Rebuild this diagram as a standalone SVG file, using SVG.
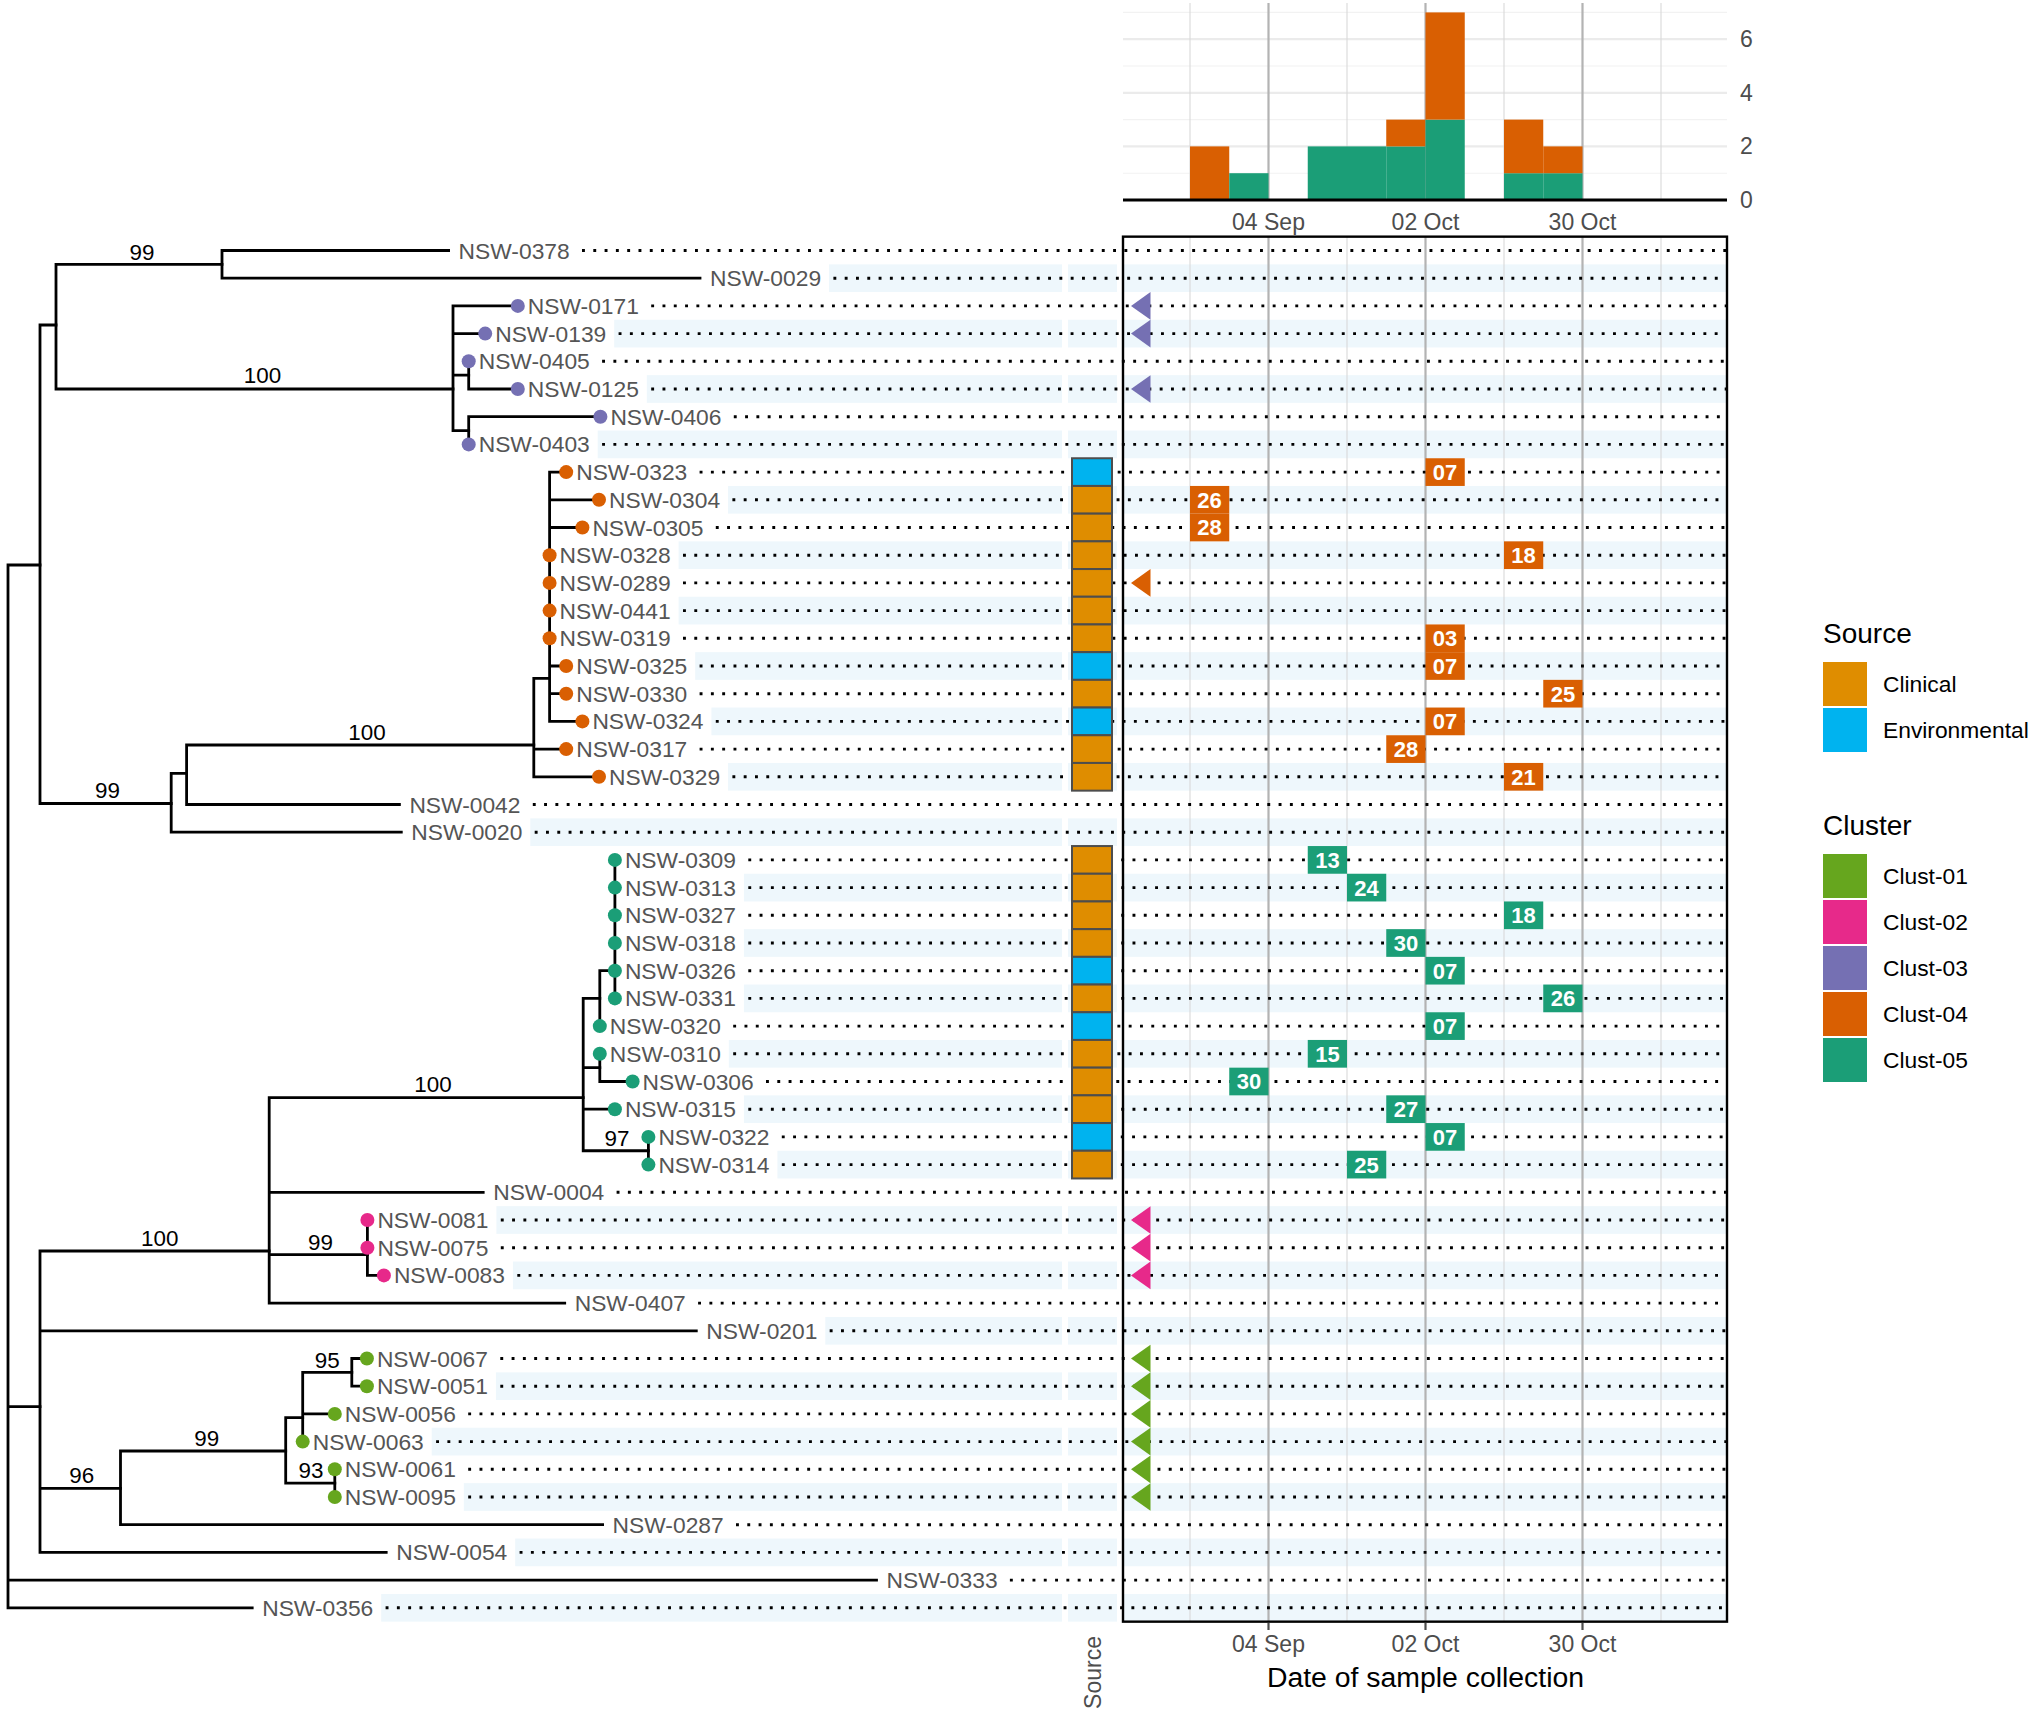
<svg xmlns="http://www.w3.org/2000/svg" width="2033" height="1712" viewBox="0 0 2033 1712">
<style>
text{font-family:"Liberation Sans",Arial,Helvetica,sans-serif}
.tl{font-size:22.8px;fill:#555555}
.bs{font-size:22.4px;fill:#000;text-anchor:middle}
.ax{font-size:23px;fill:#4D4D4D;text-anchor:middle}
.edge{stroke:#000;stroke-width:2.8;fill:none;stroke-linecap:square}
.dl{stroke:#000;stroke-width:2.9;stroke-dasharray:2.9 8.4;fill:none}
.st{fill:#EEF7FC}
.gmaj{stroke:#B3B3B3;stroke-width:2.2}
.gmin{stroke:#D9D9D9;stroke-width:1.1}
.hmaj{stroke:#EBEBEB;stroke-width:2.2}
.hmin{stroke:#F2F2F2;stroke-width:1.1}
.bx text{font-size:22px;font-weight:bold;fill:#fff;text-anchor:middle}
.c1{fill:#66A61E}.c2{fill:#E7298A}.c3{fill:#7570B3}.c4{fill:#D95F02}.c5{fill:#1B9E77}
.cl{fill:#DF8D00}.en{fill:#00B3EF}
.tile{stroke:#4D4D4D;stroke-width:2}
.lg{font-size:22.8px;fill:#000}
.lt{font-size:28px;fill:#000}
</style>
<rect width="2033" height="1712" fill="#fff"/>

<!-- stripes (even rows) -->
<g id="stripes" class="st">
<rect x="829" y="264.35" width="233" height="27.7"/><rect x="1068" y="264.35" width="49" height="27.7"/><rect x="1123" y="264.35" width="604" height="27.7"/>
<rect x="614.2" y="319.75" width="447.8" height="27.7"/><rect x="1068" y="319.75" width="49" height="27.7"/><rect x="1123" y="319.75" width="604" height="27.7"/>
<rect x="646.8" y="375.15" width="415.2" height="27.7"/><rect x="1068" y="375.15" width="49" height="27.7"/><rect x="1123" y="375.15" width="604" height="27.7"/>
<rect x="597.7" y="430.55" width="464.3" height="27.7"/><rect x="1068" y="430.55" width="49" height="27.7"/><rect x="1123" y="430.55" width="604" height="27.7"/>
<rect x="728" y="485.95" width="334" height="27.7"/><rect x="1068" y="485.95" width="49" height="27.7"/><rect x="1123" y="485.95" width="604" height="27.7"/>
<rect x="678.6" y="541.35" width="383.4" height="27.7"/><rect x="1068" y="541.35" width="49" height="27.7"/><rect x="1123" y="541.35" width="604" height="27.7"/>
<rect x="678.6" y="596.75" width="383.4" height="27.7"/><rect x="1068" y="596.75" width="49" height="27.7"/><rect x="1123" y="596.75" width="604" height="27.7"/>
<rect x="695.2" y="652.15" width="366.8" height="27.7"/><rect x="1068" y="652.15" width="49" height="27.7"/><rect x="1123" y="652.15" width="604" height="27.7"/>
<rect x="711.4" y="707.55" width="350.6" height="27.7"/><rect x="1068" y="707.55" width="49" height="27.7"/><rect x="1123" y="707.55" width="604" height="27.7"/>
<rect x="728" y="762.95" width="334" height="27.7"/><rect x="1068" y="762.95" width="49" height="27.7"/><rect x="1123" y="762.95" width="604" height="27.7"/>
<rect x="530.3" y="818.35" width="531.7" height="27.7"/><rect x="1068" y="818.35" width="49" height="27.7"/><rect x="1123" y="818.35" width="604" height="27.7"/>
<rect x="743.9" y="873.75" width="318.1" height="27.7"/><rect x="1068" y="873.75" width="49" height="27.7"/><rect x="1123" y="873.75" width="604" height="27.7"/>
<rect x="743.9" y="929.15" width="318.1" height="27.7"/><rect x="1068" y="929.15" width="49" height="27.7"/><rect x="1123" y="929.15" width="604" height="27.7"/>
<rect x="743.9" y="984.55" width="318.1" height="27.7"/><rect x="1068" y="984.55" width="49" height="27.7"/><rect x="1123" y="984.55" width="604" height="27.7"/>
<rect x="728.8" y="1039.95" width="333.2" height="27.7"/><rect x="1068" y="1039.95" width="49" height="27.7"/><rect x="1123" y="1039.95" width="604" height="27.7"/>
<rect x="743.9" y="1095.35" width="318.1" height="27.7"/><rect x="1068" y="1095.35" width="49" height="27.7"/><rect x="1123" y="1095.35" width="604" height="27.7"/>
<rect x="777.4" y="1150.75" width="284.6" height="27.7"/><rect x="1068" y="1150.75" width="49" height="27.7"/><rect x="1123" y="1150.75" width="604" height="27.7"/>
<rect x="496.4" y="1206.15" width="565.6" height="27.7"/><rect x="1068" y="1206.15" width="49" height="27.7"/><rect x="1123" y="1206.15" width="604" height="27.7"/>
<rect x="512.9" y="1261.55" width="549.1" height="27.7"/><rect x="1068" y="1261.55" width="49" height="27.7"/><rect x="1123" y="1261.55" width="604" height="27.7"/>
<rect x="825.3" y="1316.95" width="236.7" height="27.7"/><rect x="1068" y="1316.95" width="49" height="27.7"/><rect x="1123" y="1316.95" width="604" height="27.7"/>
<rect x="495.9" y="1372.35" width="566.1" height="27.7"/><rect x="1068" y="1372.35" width="49" height="27.7"/><rect x="1123" y="1372.35" width="604" height="27.7"/>
<rect x="431.7" y="1427.75" width="630.3" height="27.7"/><rect x="1068" y="1427.75" width="49" height="27.7"/><rect x="1123" y="1427.75" width="604" height="27.7"/>
<rect x="463.8" y="1483.15" width="598.2" height="27.7"/><rect x="1068" y="1483.15" width="49" height="27.7"/><rect x="1123" y="1483.15" width="604" height="27.7"/>
<rect x="515.2" y="1538.55" width="546.8" height="27.7"/><rect x="1068" y="1538.55" width="49" height="27.7"/><rect x="1123" y="1538.55" width="604" height="27.7"/>
<rect x="381.2" y="1593.95" width="680.8" height="27.7"/><rect x="1068" y="1593.95" width="49" height="27.7"/><rect x="1123" y="1593.95" width="604" height="27.7"/>
</g>

<!-- timeline gridlines -->
<g id="timeline-grid">
<line class="gmin" x1="1190" y1="236.65" x2="1190" y2="1621.65"/>
<line class="gmin" x1="1347" y1="236.65" x2="1347" y2="1621.65"/>
<line class="gmin" x1="1504" y1="236.65" x2="1504" y2="1621.65"/>
<line class="gmin" x1="1661" y1="236.65" x2="1661" y2="1621.65"/>
<line class="gmaj" x1="1268.5" y1="236.65" x2="1268.5" y2="1621.65"/>
<line class="gmaj" x1="1425.5" y1="236.65" x2="1425.5" y2="1621.65"/>
<line class="gmaj" x1="1582.5" y1="236.65" x2="1582.5" y2="1621.65"/>
</g>

<!-- dotted leader lines -->
<g id="leaders" class="dl">
<line x1="582" y1="250.5" x2="1727" y2="250.5"/>
<line x1="833.4" y1="278.2" x2="1727" y2="278.2"/>
<line x1="651.2" y1="305.9" x2="1727" y2="305.9"/>
<line x1="618.6" y1="333.6" x2="1727" y2="333.6"/>
<line x1="602.1" y1="361.3" x2="1727" y2="361.3"/>
<line x1="651.2" y1="389" x2="1727" y2="389"/>
<line x1="733.8" y1="416.7" x2="1727" y2="416.7"/>
<line x1="602.1" y1="444.4" x2="1727" y2="444.4"/>
<line x1="699.6" y1="472.1" x2="1727" y2="472.1"/>
<line x1="732.4" y1="499.8" x2="1727" y2="499.8"/>
<line x1="715.8" y1="527.5" x2="1727" y2="527.5"/>
<line x1="683" y1="555.2" x2="1727" y2="555.2"/>
<line x1="683" y1="582.9" x2="1727" y2="582.9"/>
<line x1="683" y1="610.6" x2="1727" y2="610.6"/>
<line x1="683" y1="638.3" x2="1727" y2="638.3"/>
<line x1="699.6" y1="666" x2="1727" y2="666"/>
<line x1="699.6" y1="693.7" x2="1727" y2="693.7"/>
<line x1="715.8" y1="721.4" x2="1727" y2="721.4"/>
<line x1="699.6" y1="749.1" x2="1727" y2="749.1"/>
<line x1="732.4" y1="776.8" x2="1727" y2="776.8"/>
<line x1="532.8" y1="804.5" x2="1727" y2="804.5"/>
<line x1="534.7" y1="832.2" x2="1727" y2="832.2"/>
<line x1="748.3" y1="859.9" x2="1727" y2="859.9"/>
<line x1="748.3" y1="887.6" x2="1727" y2="887.6"/>
<line x1="748.3" y1="915.3" x2="1727" y2="915.3"/>
<line x1="748.3" y1="943" x2="1727" y2="943"/>
<line x1="748.3" y1="970.7" x2="1727" y2="970.7"/>
<line x1="748.3" y1="998.4" x2="1727" y2="998.4"/>
<line x1="733.2" y1="1026.1" x2="1727" y2="1026.1"/>
<line x1="733.2" y1="1053.8" x2="1727" y2="1053.8"/>
<line x1="766" y1="1081.5" x2="1727" y2="1081.5"/>
<line x1="748.3" y1="1109.2" x2="1727" y2="1109.2"/>
<line x1="781.8" y1="1136.9" x2="1727" y2="1136.9"/>
<line x1="781.8" y1="1164.6" x2="1727" y2="1164.6"/>
<line x1="616.6" y1="1192.3" x2="1727" y2="1192.3"/>
<line x1="500.8" y1="1220" x2="1727" y2="1220"/>
<line x1="500.8" y1="1247.7" x2="1727" y2="1247.7"/>
<line x1="517.3" y1="1275.4" x2="1727" y2="1275.4"/>
<line x1="698.1" y1="1303.1" x2="1727" y2="1303.1"/>
<line x1="829.7" y1="1330.8" x2="1727" y2="1330.8"/>
<line x1="500.3" y1="1358.5" x2="1727" y2="1358.5"/>
<line x1="500.3" y1="1386.2" x2="1727" y2="1386.2"/>
<line x1="468.2" y1="1413.9" x2="1727" y2="1413.9"/>
<line x1="436.1" y1="1441.6" x2="1727" y2="1441.6"/>
<line x1="468.2" y1="1469.3" x2="1727" y2="1469.3"/>
<line x1="468.2" y1="1497" x2="1727" y2="1497"/>
<line x1="736" y1="1524.7" x2="1727" y2="1524.7"/>
<line x1="519.6" y1="1552.4" x2="1727" y2="1552.4"/>
<line x1="1009.9" y1="1580.1" x2="1727" y2="1580.1"/>
<line x1="385.6" y1="1607.8" x2="1727" y2="1607.8"/>
</g>

<!-- tree connectors -->
<g id="connectors" class="edge">
<path d="M8 565V1607.8M8 565H40M8 1406.7H40M8 1580.1H876.5M8 1607.8H252.2"/>
<path d="M40 325V803.5M40 325H56M40 803.5H171.2"/>
<path d="M56 264.35V389M56 264.35H222M56 389H453"/>
<path d="M222 250.5V278.2M222 250.5H448.6M222 278.2H700"/>
<path d="M453 305.9V430.55M453 305.9H517.8M453 333.6H485.2M453 375.15H468.7M453 430.55H468.7"/>
<path d="M468.7 361.3V389M468.7 389H517.8"/>
<path d="M468.7 416.7V444.4M468.7 416.7H600.4"/>
<path d="M171.2 773.3V832.2M171.2 773.3H186.6M171.2 832.2H401.3"/>
<path d="M186.6 745V804.5M186.6 745H533.8M186.6 804.5H399.4"/>
<path d="M533.8 678.3V776.8M533.8 678.3H549.6M533.8 749.1H566.2M533.8 776.8H599"/>
<path d="M549.6 472.1V721.4M549.6 472.1H566.2M549.6 499.8H599M549.6 527.5H582.4M549.6 666H566.2M549.6 693.7H566.2M549.6 721.4H582.4"/>
<path d="M40 1251V1552.4M40 1251H269.2M40 1330.8H696.3M40 1488.3H120.5M40 1552.4H386.2"/>
<path d="M269.2 1097.7V1303.1M269.2 1097.7H583.2M269.2 1192.3H483.2M269.2 1254.6H367.4M269.2 1303.1H564.7"/>
<path d="M583.2 998.4V1150.75M583.2 998.4H599.8M583.2 1067.65H599.8M583.2 1109.2H614.9M583.2 1150.75H648.4"/>
<path d="M599.8 970.7V1026.1M599.8 970.7H614.9"/>
<path d="M614.9 859.9V998.4"/>
<path d="M599.8 1053.8V1081.5M599.8 1081.5H632.6"/>
<path d="M648.4 1136.9V1164.6"/>
<path d="M367.4 1220V1275.4M367.4 1275.4H383.9"/>
<path d="M120.5 1451V1524.7M120.5 1451H285.7M120.5 1524.7H602.6"/>
<path d="M285.7 1417.7V1483.15M285.7 1417.7H302.7M285.7 1483.15H334.8"/>
<path d="M302.7 1372.35V1441.6M302.7 1372.35H351.8M302.7 1413.9H334.8"/>
<path d="M351.8 1358.5V1386.2M351.8 1358.5H366.9M351.8 1386.2H366.9"/>
<path d="M334.8 1469.3V1497"/>
</g>

<!-- bootstrap support labels -->
<g id="support-labels" class="bs">
<text x="142" y="259.7">99</text>
<text x="262.5" y="383">100</text>
<text x="107.5" y="798">99</text>
<text x="367" y="739.7">100</text>
<text x="433" y="1092.3">100</text>
<text x="616.9" y="1146.3">97</text>
<text x="159.8" y="1246.3">100</text>
<text x="320.5" y="1249.7">99</text>
<text x="327.2" y="1368">95</text>
<text x="206.7" y="1445.7">99</text>
<text x="81.7" y="1483">96</text>
<text x="311" y="1478">93</text>
</g>

<!-- tips -->
<g id="tip-NSW-0378"><text class="tl" x="458.6" y="258.5">NSW-0378</text></g>
<g id="tip-NSW-0029"><text class="tl" x="710" y="286.2">NSW-0029</text></g>
<g id="tip-NSW-0171"><circle class="c3" cx="517.8" cy="305.9" r="7"/><text class="tl" x="527.8" y="313.9">NSW-0171</text></g>
<g id="tip-NSW-0139"><circle class="c3" cx="485.2" cy="333.6" r="7"/><text class="tl" x="495.2" y="341.6">NSW-0139</text></g>
<g id="tip-NSW-0405"><circle class="c3" cx="468.7" cy="361.3" r="7"/><text class="tl" x="478.7" y="369.3">NSW-0405</text></g>
<g id="tip-NSW-0125"><circle class="c3" cx="517.8" cy="389" r="7"/><text class="tl" x="527.8" y="397">NSW-0125</text></g>
<g id="tip-NSW-0406"><circle class="c3" cx="600.4" cy="416.7" r="7"/><text class="tl" x="610.4" y="424.7">NSW-0406</text></g>
<g id="tip-NSW-0403"><circle class="c3" cx="468.7" cy="444.4" r="7"/><text class="tl" x="478.7" y="452.4">NSW-0403</text></g>
<g id="tip-NSW-0323"><circle class="c4" cx="566.2" cy="472.1" r="7"/><text class="tl" x="576.2" y="480.1">NSW-0323</text></g>
<g id="tip-NSW-0304"><circle class="c4" cx="599" cy="499.8" r="7"/><text class="tl" x="609" y="507.8">NSW-0304</text></g>
<g id="tip-NSW-0305"><circle class="c4" cx="582.4" cy="527.5" r="7"/><text class="tl" x="592.4" y="535.5">NSW-0305</text></g>
<g id="tip-NSW-0328"><circle class="c4" cx="549.6" cy="555.2" r="7"/><text class="tl" x="559.6" y="563.2">NSW-0328</text></g>
<g id="tip-NSW-0289"><circle class="c4" cx="549.6" cy="582.9" r="7"/><text class="tl" x="559.6" y="590.9">NSW-0289</text></g>
<g id="tip-NSW-0441"><circle class="c4" cx="549.6" cy="610.6" r="7"/><text class="tl" x="559.6" y="618.6">NSW-0441</text></g>
<g id="tip-NSW-0319"><circle class="c4" cx="549.6" cy="638.3" r="7"/><text class="tl" x="559.6" y="646.3">NSW-0319</text></g>
<g id="tip-NSW-0325"><circle class="c4" cx="566.2" cy="666" r="7"/><text class="tl" x="576.2" y="674">NSW-0325</text></g>
<g id="tip-NSW-0330"><circle class="c4" cx="566.2" cy="693.7" r="7"/><text class="tl" x="576.2" y="701.7">NSW-0330</text></g>
<g id="tip-NSW-0324"><circle class="c4" cx="582.4" cy="721.4" r="7"/><text class="tl" x="592.4" y="729.4">NSW-0324</text></g>
<g id="tip-NSW-0317"><circle class="c4" cx="566.2" cy="749.1" r="7"/><text class="tl" x="576.2" y="757.1">NSW-0317</text></g>
<g id="tip-NSW-0329"><circle class="c4" cx="599" cy="776.8" r="7"/><text class="tl" x="609" y="784.8">NSW-0329</text></g>
<g id="tip-NSW-0042"><text class="tl" x="409.4" y="812.5">NSW-0042</text></g>
<g id="tip-NSW-0020"><text class="tl" x="411.3" y="840.2">NSW-0020</text></g>
<g id="tip-NSW-0309"><circle class="c5" cx="614.9" cy="859.9" r="7"/><text class="tl" x="624.9" y="867.9">NSW-0309</text></g>
<g id="tip-NSW-0313"><circle class="c5" cx="614.9" cy="887.6" r="7"/><text class="tl" x="624.9" y="895.6">NSW-0313</text></g>
<g id="tip-NSW-0327"><circle class="c5" cx="614.9" cy="915.3" r="7"/><text class="tl" x="624.9" y="923.3">NSW-0327</text></g>
<g id="tip-NSW-0318"><circle class="c5" cx="614.9" cy="943" r="7"/><text class="tl" x="624.9" y="951">NSW-0318</text></g>
<g id="tip-NSW-0326"><circle class="c5" cx="614.9" cy="970.7" r="7"/><text class="tl" x="624.9" y="978.7">NSW-0326</text></g>
<g id="tip-NSW-0331"><circle class="c5" cx="614.9" cy="998.4" r="7"/><text class="tl" x="624.9" y="1006.4">NSW-0331</text></g>
<g id="tip-NSW-0320"><circle class="c5" cx="599.8" cy="1026.1" r="7"/><text class="tl" x="609.8" y="1034.1">NSW-0320</text></g>
<g id="tip-NSW-0310"><circle class="c5" cx="599.8" cy="1053.8" r="7"/><text class="tl" x="609.8" y="1061.8">NSW-0310</text></g>
<g id="tip-NSW-0306"><circle class="c5" cx="632.6" cy="1081.5" r="7"/><text class="tl" x="642.6" y="1089.5">NSW-0306</text></g>
<g id="tip-NSW-0315"><circle class="c5" cx="614.9" cy="1109.2" r="7"/><text class="tl" x="624.9" y="1117.2">NSW-0315</text></g>
<g id="tip-NSW-0322"><circle class="c5" cx="648.4" cy="1136.9" r="7"/><text class="tl" x="658.4" y="1144.9">NSW-0322</text></g>
<g id="tip-NSW-0314"><circle class="c5" cx="648.4" cy="1164.6" r="7"/><text class="tl" x="658.4" y="1172.6">NSW-0314</text></g>
<g id="tip-NSW-0004"><text class="tl" x="493.2" y="1200.3">NSW-0004</text></g>
<g id="tip-NSW-0081"><circle class="c2" cx="367.4" cy="1220" r="7"/><text class="tl" x="377.4" y="1228">NSW-0081</text></g>
<g id="tip-NSW-0075"><circle class="c2" cx="367.4" cy="1247.7" r="7"/><text class="tl" x="377.4" y="1255.7">NSW-0075</text></g>
<g id="tip-NSW-0083"><circle class="c2" cx="383.9" cy="1275.4" r="7"/><text class="tl" x="393.9" y="1283.4">NSW-0083</text></g>
<g id="tip-NSW-0407"><text class="tl" x="574.7" y="1311.1">NSW-0407</text></g>
<g id="tip-NSW-0201"><text class="tl" x="706.3" y="1338.8">NSW-0201</text></g>
<g id="tip-NSW-0067"><circle class="c1" cx="366.9" cy="1358.5" r="7"/><text class="tl" x="376.9" y="1366.5">NSW-0067</text></g>
<g id="tip-NSW-0051"><circle class="c1" cx="366.9" cy="1386.2" r="7"/><text class="tl" x="376.9" y="1394.2">NSW-0051</text></g>
<g id="tip-NSW-0056"><circle class="c1" cx="334.8" cy="1413.9" r="7"/><text class="tl" x="344.8" y="1421.9">NSW-0056</text></g>
<g id="tip-NSW-0063"><circle class="c1" cx="302.7" cy="1441.6" r="7"/><text class="tl" x="312.7" y="1449.6">NSW-0063</text></g>
<g id="tip-NSW-0061"><circle class="c1" cx="334.8" cy="1469.3" r="7"/><text class="tl" x="344.8" y="1477.3">NSW-0061</text></g>
<g id="tip-NSW-0095"><circle class="c1" cx="334.8" cy="1497" r="7"/><text class="tl" x="344.8" y="1505">NSW-0095</text></g>
<g id="tip-NSW-0287"><text class="tl" x="612.6" y="1532.7">NSW-0287</text></g>
<g id="tip-NSW-0054"><text class="tl" x="396.2" y="1560.4">NSW-0054</text></g>
<g id="tip-NSW-0333"><text class="tl" x="886.5" y="1588.1">NSW-0333</text></g>
<g id="tip-NSW-0356"><text class="tl" x="262.2" y="1615.8">NSW-0356</text></g>

<!-- source tiles -->
<g id="source-tiles" class="tile">
<rect class="en" x="1072" y="458.25" width="40" height="27.7"/>
<rect class="cl" x="1072" y="485.95" width="40" height="27.7"/>
<rect class="cl" x="1072" y="513.65" width="40" height="27.7"/>
<rect class="cl" x="1072" y="541.35" width="40" height="27.7"/>
<rect class="cl" x="1072" y="569.05" width="40" height="27.7"/>
<rect class="cl" x="1072" y="596.75" width="40" height="27.7"/>
<rect class="cl" x="1072" y="624.45" width="40" height="27.7"/>
<rect class="en" x="1072" y="652.15" width="40" height="27.7"/>
<rect class="cl" x="1072" y="679.85" width="40" height="27.7"/>
<rect class="en" x="1072" y="707.55" width="40" height="27.7"/>
<rect class="cl" x="1072" y="735.25" width="40" height="27.7"/>
<rect class="cl" x="1072" y="762.95" width="40" height="27.7"/>
<rect class="cl" x="1072" y="846.05" width="40" height="27.7"/>
<rect class="cl" x="1072" y="873.75" width="40" height="27.7"/>
<rect class="cl" x="1072" y="901.45" width="40" height="27.7"/>
<rect class="cl" x="1072" y="929.15" width="40" height="27.7"/>
<rect class="en" x="1072" y="956.85" width="40" height="27.7"/>
<rect class="cl" x="1072" y="984.55" width="40" height="27.7"/>
<rect class="en" x="1072" y="1012.25" width="40" height="27.7"/>
<rect class="cl" x="1072" y="1039.95" width="40" height="27.7"/>
<rect class="cl" x="1072" y="1067.65" width="40" height="27.7"/>
<rect class="cl" x="1072" y="1095.35" width="40" height="27.7"/>
<rect class="en" x="1072" y="1123.05" width="40" height="27.7"/>
<rect class="cl" x="1072" y="1150.75" width="40" height="27.7"/>
</g>
<text class="ax" transform="translate(1100.5 1672.5) rotate(-90)">Source</text>

<!-- undated cluster markers -->
<g id="cluster-markers">
<polygon class="c3" points="1131,305.9 1150.5,292.05 1150.5,319.75"/>
<polygon class="c3" points="1131,333.6 1150.5,319.75 1150.5,347.45"/>
<polygon class="c3" points="1131,389 1150.5,375.15 1150.5,402.85"/>
<polygon class="c4" points="1131,582.9 1150.5,569.05 1150.5,596.75"/>
<polygon class="c2" points="1131,1220 1150.5,1206.15 1150.5,1233.85"/>
<polygon class="c2" points="1131,1247.7 1150.5,1233.85 1150.5,1261.55"/>
<polygon class="c2" points="1131,1275.4 1150.5,1261.55 1150.5,1289.25"/>
<polygon class="c1" points="1131,1358.5 1150.5,1344.65 1150.5,1372.35"/>
<polygon class="c1" points="1131,1386.2 1150.5,1372.35 1150.5,1400.05"/>
<polygon class="c1" points="1131,1413.9 1150.5,1400.05 1150.5,1427.75"/>
<polygon class="c1" points="1131,1441.6 1150.5,1427.75 1150.5,1455.45"/>
<polygon class="c1" points="1131,1469.3 1150.5,1455.45 1150.5,1483.15"/>
<polygon class="c1" points="1131,1497 1150.5,1483.15 1150.5,1510.85"/>
</g>

<!-- date labels -->
<g id="date-labels" class="bx">
<g id="d-0323"><rect class="c4" x="1425.5" y="458.25" width="39.25" height="27.7"/><text x="1445.1" y="480">07</text></g>
<g id="d-0304"><rect class="c4" x="1190" y="485.95" width="39.25" height="27.7"/><text x="1209.6" y="507.7">26</text></g>
<g id="d-0305"><rect class="c4" x="1190" y="513.65" width="39.25" height="27.7"/><text x="1209.6" y="535.4">28</text></g>
<g id="d-0328"><rect class="c4" x="1504" y="541.35" width="39.25" height="27.7"/><text x="1523.6" y="563.1">18</text></g>
<g id="d-0319"><rect class="c4" x="1425.5" y="624.45" width="39.25" height="27.7"/><text x="1445.1" y="646.2">03</text></g>
<g id="d-0325"><rect class="c4" x="1425.5" y="652.15" width="39.25" height="27.7"/><text x="1445.1" y="673.9">07</text></g>
<g id="d-0330"><rect class="c4" x="1543.25" y="679.85" width="39.25" height="27.7"/><text x="1562.9" y="701.6">25</text></g>
<g id="d-0324"><rect class="c4" x="1425.5" y="707.55" width="39.25" height="27.7"/><text x="1445.1" y="729.3">07</text></g>
<g id="d-0317"><rect class="c4" x="1386.25" y="735.25" width="39.25" height="27.7"/><text x="1405.9" y="757">28</text></g>
<g id="d-0329"><rect class="c4" x="1504" y="762.95" width="39.25" height="27.7"/><text x="1523.6" y="784.7">21</text></g>
<g id="d-0309"><rect class="c5" x="1307.75" y="846.05" width="39.25" height="27.7"/><text x="1327.4" y="867.8">13</text></g>
<g id="d-0313"><rect class="c5" x="1347" y="873.75" width="39.25" height="27.7"/><text x="1366.6" y="895.5">24</text></g>
<g id="d-0327"><rect class="c5" x="1504" y="901.45" width="39.25" height="27.7"/><text x="1523.6" y="923.2">18</text></g>
<g id="d-0318"><rect class="c5" x="1386.25" y="929.15" width="39.25" height="27.7"/><text x="1405.9" y="950.9">30</text></g>
<g id="d-0326"><rect class="c5" x="1425.5" y="956.85" width="39.25" height="27.7"/><text x="1445.1" y="978.6">07</text></g>
<g id="d-0331"><rect class="c5" x="1543.25" y="984.55" width="39.25" height="27.7"/><text x="1562.9" y="1006.3">26</text></g>
<g id="d-0320"><rect class="c5" x="1425.5" y="1012.25" width="39.25" height="27.7"/><text x="1445.1" y="1034">07</text></g>
<g id="d-0310"><rect class="c5" x="1307.75" y="1039.95" width="39.25" height="27.7"/><text x="1327.4" y="1061.7">15</text></g>
<g id="d-0306"><rect class="c5" x="1229.25" y="1067.65" width="39.25" height="27.7"/><text x="1248.9" y="1089.4">30</text></g>
<g id="d-0315"><rect class="c5" x="1386.25" y="1095.35" width="39.25" height="27.7"/><text x="1405.9" y="1117.1">27</text></g>
<g id="d-0322"><rect class="c5" x="1425.5" y="1123.05" width="39.25" height="27.7"/><text x="1445.1" y="1144.8">07</text></g>
<g id="d-0314"><rect class="c5" x="1347" y="1150.75" width="39.25" height="27.7"/><text x="1366.6" y="1172.5">25</text></g>
</g>

<!-- timeline panel frame and axis -->
<g id="timeline-axis">
<rect x="1123" y="236.65" width="604" height="1385" fill="none" stroke="#000" stroke-width="2.4"/>
<g stroke="#4D4D4D" stroke-width="2.2">
<line x1="1268.5" y1="1623" x2="1268.5" y2="1630"/>
<line x1="1425.5" y1="1623" x2="1425.5" y2="1630"/>
<line x1="1582.5" y1="1623" x2="1582.5" y2="1630"/>
</g>
<text class="ax" x="1268.5" y="1652">04 Sep</text>
<text class="ax" x="1425.5" y="1652">02 Oct</text>
<text class="ax" x="1582.5" y="1652">30 Oct</text>
<text x="1425.5" y="1687" font-size="28.4" fill="#000" text-anchor="middle">Date of sample collection</text>
</g>

<!-- histogram -->
<g id="histogram">
<line class="hmin" x1="1123" y1="12.4" x2="1727" y2="12.4"/>
<line class="hmaj" x1="1123" y1="39.2" x2="1727" y2="39.2"/>
<line class="hmin" x1="1123" y1="66" x2="1727" y2="66"/>
<line class="hmaj" x1="1123" y1="92.8" x2="1727" y2="92.8"/>
<line class="hmin" x1="1123" y1="119.6" x2="1727" y2="119.6"/>
<line class="hmaj" x1="1123" y1="146.4" x2="1727" y2="146.4"/>
<line class="hmin" x1="1123" y1="173.2" x2="1727" y2="173.2"/>
<line class="gmin" x1="1190" y1="3" x2="1190" y2="200"/>
<line class="gmin" x1="1347" y1="3" x2="1347" y2="200"/>
<line class="gmin" x1="1504" y1="3" x2="1504" y2="200"/>
<line class="gmin" x1="1661" y1="3" x2="1661" y2="200"/>
<line class="gmaj" x1="1268.5" y1="3" x2="1268.5" y2="200"/>
<line class="gmaj" x1="1425.5" y1="3" x2="1425.5" y2="200"/>
<line class="gmaj" x1="1582.5" y1="3" x2="1582.5" y2="200"/>
<rect class="c4" x="1190" y="146.4" width="39.25" height="53.6"/>
<rect class="c5" x="1229.25" y="173.2" width="39.25" height="26.8"/>
<rect class="c5" x="1307.75" y="146.4" width="39.25" height="53.6"/>
<rect class="c5" x="1347" y="146.4" width="39.25" height="53.6"/>
<rect class="c5" x="1386.25" y="146.4" width="39.25" height="53.6"/>
<rect class="c4" x="1386.25" y="119.6" width="39.25" height="26.8"/>
<rect class="c5" x="1425.5" y="119.6" width="39.25" height="80.4"/>
<rect class="c4" x="1425.5" y="12.4" width="39.25" height="107.2"/>
<rect class="c5" x="1504" y="173.2" width="39.25" height="26.8"/>
<rect class="c4" x="1504" y="119.6" width="39.25" height="53.6"/>
<rect class="c5" x="1543.25" y="173.2" width="39.25" height="26.8"/>
<rect class="c4" x="1543.25" y="146.4" width="39.25" height="26.8"/>
<line x1="1123" y1="200" x2="1727" y2="200" stroke="#000" stroke-width="2.8"/>
<g font-size="23" fill="#4D4D4D">
<text x="1740" y="208">0</text>
<text x="1740" y="154.4">2</text>
<text x="1740" y="100.8">4</text>
<text x="1740" y="47.2">6</text>
</g>
<text class="ax" x="1268.5" y="230">04 Sep</text>
<text class="ax" x="1425.5" y="230">02 Oct</text>
<text class="ax" x="1582.5" y="230">30 Oct</text>
</g>

<!-- legend -->
<g id="legend-source">
<text class="lt" x="1823" y="643">Source</text>
<rect class="cl" x="1823" y="662" width="44" height="44"/>
<rect class="en" x="1823" y="708" width="44" height="44"/>
<text class="lg" x="1883" y="692">Clinical</text>
<text class="lg" x="1883" y="738">Environmental</text>
</g>
<g id="legend-cluster">
<text class="lt" x="1823" y="835">Cluster</text>
<rect class="c1" x="1823" y="854" width="44" height="44"/>
<rect class="c2" x="1823" y="900" width="44" height="44"/>
<rect class="c3" x="1823" y="946" width="44" height="44"/>
<rect class="c4" x="1823" y="992" width="44" height="44"/>
<rect class="c5" x="1823" y="1038" width="44" height="44"/>
<text class="lg" x="1883" y="884">Clust-01</text>
<text class="lg" x="1883" y="930">Clust-02</text>
<text class="lg" x="1883" y="976">Clust-03</text>
<text class="lg" x="1883" y="1022">Clust-04</text>
<text class="lg" x="1883" y="1068">Clust-05</text>
</g>
</svg>
